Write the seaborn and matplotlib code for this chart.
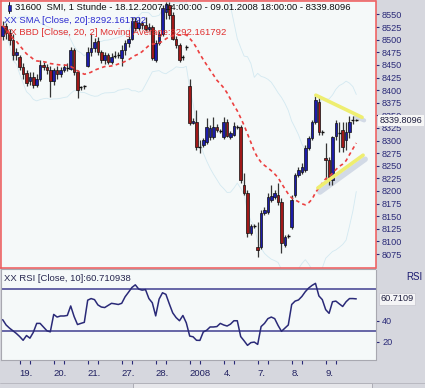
import numpy as np
import pandas as pd
import matplotlib
matplotlib.use("Agg")
import matplotlib.pyplot as plt
import seaborn as sns
from matplotlib.patches import Rectangle
from matplotlib.lines import Line2D

# ---------------- data (hourly bars 18.12.2007 14:00 - 09.01.2008 18:00) ----------------
opens = [8508, 8528, 8514, 8499, 8469, 8465, 8445, 8433, 8419, 8427,
         8411, 8423, 8449, 8445, 8439, 8419, 8439, 8431, 8439, 8445,
         8441, 8479, 8435, 8404, 8406, 8447, 8475, 8483, 8498, 8475,
         8459, 8469, 8455, 8465, 8467, 8463, 8479, 8493, 8502, 8538,
         8524, 8534, 8530, 8522, 8526, 8459, 8493, 8512, 8554, 8568,
         8548, 8502, 8489, 8463, 8485, 8409, 8334, 8336, 8289, 8291,
         8297, 8307, 8307, 8326, 8318, 8307, 8336, 8307, 8312, 8326,
         8326, 8212, 8196, 8117, 8130, 8089, 8089, 8156, 8158, 8182,
         8188, 8192, 8178, 8093, 8111, 8128, 8192, 8231, 8237, 8241,
         8285, 8305, 8336, 8376, 8316, 8265, 8261, 8221, 8310, 8314,
         8320, 8301, 8316, 8340, 8339.5]
highs = [8538, 8534, 8522, 8512, 8483, 8469, 8453, 8439, 8435, 8435,
         8431, 8459, 8455, 8451, 8447, 8443, 8447, 8445, 8451, 8453,
         8485, 8483, 8439, 8409, 8411, 8485, 8512, 8503, 8506, 8479,
         8475, 8473, 8473, 8477, 8475, 8489, 8499, 8508, 8544, 8544,
         8544, 8538, 8544, 8534, 8530, 8499, 8518, 8568, 8574, 8574,
         8554, 8508, 8494, 8469, 8489, 8423, 8344, 8360, 8301, 8305,
         8344, 8330, 8346, 8332, 8322, 8346, 8342, 8318, 8336, 8330,
         8330, 8235, 8202, 8134, 8134, 8138, 8162, 8168, 8196, 8212,
         8202, 8215, 8186, 8113, 8115, 8192, 8235, 8247, 8255, 8291,
         8309, 8340, 8388, 8386, 8320, 8295, 8267, 8310, 8340, 8336,
         8336, 8336, 8348, 8348, 8342]
lows = [8499, 8502, 8489, 8459, 8459, 8439, 8423, 8408, 8411, 8404,
        8406, 8419, 8439, 8431, 8386, 8411, 8423, 8427, 8435, 8437,
        8439, 8429, 8384, 8400, 8402, 8445, 8467, 8475, 8469, 8453,
        8451, 8451, 8451, 8463, 8463, 8447, 8469, 8485, 8499, 8518,
        8520, 8522, 8518, 8518, 8459, 8455, 8489, 8508, 8542, 8542,
        8499, 8483, 8455, 8459, 8479, 8330, 8332, 8281, 8275, 8287,
        8293, 8301, 8303, 8316, 8314, 8303, 8307, 8303, 8309, 8322,
        8215, 8192, 8109, 8113, 8126, 8069, 8085, 8152, 8154, 8178,
        8184, 8172, 8077, 8089, 8107, 8124, 8188, 8227, 8233, 8237,
        8281, 8301, 8332, 8312, 8312, 8221, 8212, 8212, 8301, 8277,
        8277, 8281, 8305, 8332, 8338]
closes = [8528, 8514, 8499, 8469, 8475, 8445, 8431, 8415, 8427, 8411,
          8423, 8449, 8446, 8439, 8419, 8439, 8431, 8439, 8445, 8443,
          8479, 8435, 8400, 8406, 8408, 8475, 8483, 8495, 8475, 8459,
          8469, 8455, 8465, 8467, 8469, 8479, 8493, 8502, 8538, 8524,
          8534, 8530, 8522, 8526, 8463, 8493, 8512, 8562, 8570, 8548,
          8502, 8489, 8459, 8465, 8485, 8334, 8338, 8287, 8288, 8301,
          8326, 8324, 8326, 8320, 8319, 8336, 8310, 8314, 8328, 8327,
          8221, 8196, 8117, 8130, 8131, 8083, 8156, 8162, 8188, 8190,
          8196, 8178, 8097, 8109, 8110, 8182, 8231, 8241, 8247, 8285,
          8305, 8336, 8380, 8316, 8317, 8261, 8227, 8307, 8334, 8315,
          8287, 8316, 8336, 8341, 8339.81]
rsi = [41, 36, 33, 30.5, 28, 25, 21.5, 26, 23.5, 29,
       37.5, 37.5, 34, 30.5, 29.5, 46, 43.5, 44.5, 44.5, 45,
       54, 44, 36.4, 37.5, 38.5, 59.5, 61, 60, 55, 53,
       52.5, 54.5, 56.5, 56, 55.4, 56.5, 62.7, 67, 71.5, 74,
       70, 69, 69.5, 61, 57, 44.6, 60.5, 66.5, 65, 56,
       47.5, 43, 40, 45, 38, 25.5, 24.8, 21.5, 21.4, 29.4,
       31, 34.1, 34.1, 34.5, 37.5, 36, 35, 36.8, 40, 40,
       25, 21, 16.7, 19.3, 19.8, 17.6, 34.5, 37.5, 42, 43.5,
       42, 35.5, 30, 33, 36, 55.4, 58.6, 59.7, 63, 67.5,
       71, 73.5, 75.4, 63.5, 60, 50.5, 47, 58, 58.6, 56,
       53.5, 58, 61, 61, 60.71]

day_labels = ["19.", "20.", "21.", "27.", "28.", "2008", "4.", "7.", "8.", "9."]
day_start_bars = [5, 15, 25, 35, 45, 55, 65, 75, 85, 95]
price_ticks = list(range(8075, 8551, 25))
rsi_ticks = [20, 40]
rsi_levels = [30, 70]
trend_upper_x = [92.1, 105.7]
trend_upper_y = [8390, 8346]
trend_lower_x = [92.7, 106.0]
trend_lower_y = [8206, 8271]

title_main = "31600  SMI, 1 Stunde - 18.12.2007 14:00:00 - 09.01.2008 18:00:00 - 8339.8096"
title_sma = "XX SMA [Close, 20]:8292.161792"
title_bbd = "XX BBD [Close, 20, 2] Moving Average:8292.161792"
title_rsi = "XX RSI [Close, 10]:60.710938"
last_price_label = "8339.8096"
last_rsi_label = "60.7109"

# ---------------- style ----------------
sns.set_style("white")
plt.rcParams["font.family"] = ["Liberation Sans", "DejaVu Sans"]

W, H = 425, 388
GRAY = "#d6d7de"
PANEL = "#f5f9f9"
NAVY = "#2a2a78"

fig = plt.figure(figsize=(W / 100, H / 100), dpi=100, facecolor=GRAY)


def fr(x0, y0, x1, y1):
    return [x0 / W, 1 - y1 / H, (x1 - x0) / W, (y1 - y0) / H]


ax = fig.add_axes(fr(0.5, 0.5, 375.5, 267.5))
axr = fig.add_axes(fr(0.5, 269, 375.5, 359.5))

df = pd.DataFrame({"bar": np.arange(len(closes)), "open": opens, "high": highs,
                   "low": lows, "close": closes, "rsi": rsi})
df["sma"] = df["close"].rolling(20, min_periods=1).mean()
sd = df["close"].rolling(20, min_periods=1).std(ddof=0).fillna(0)
df["upper"] = df["sma"] + 2 * sd
df["lower"] = df["sma"] - 2 * sd

for a in (ax, axr):
    a.set_facecolor(PANEL)
    a.set_xlim(-0.65, 109.65)

ax.set_ylim(8048.3, 8577.7)
axr.set_ylim(3.3, 89.0)

# Bollinger bands (faint)
sns.lineplot(data=df, x="bar", y="upper", ax=ax, color="#d3e9f1", lw=0.6)
sns.lineplot(data=df, x="bar", y="lower", ax=ax, color="#d3e9f1", lw=0.6)

# candles
idx = df["bar"].to_numpy()
o = df["open"].to_numpy(); c = df["close"].to_numpy()
ax.vlines(idx, df["low"], df["high"], color="#353535", lw=0.9, zorder=3)
doji = np.abs(c - o) < 3
body_col = np.where(c > o, "#1c1ca8", "#a01818")
bottoms = np.minimum(o, c)
heights = np.abs(c - o)
ax.bar(idx[~doji], heights[~doji], bottom=bottoms[~doji], width=0.72,
       color=body_col[~doji], edgecolor="#101010", linewidth=0.5, zorder=4)
ax.hlines(c[doji], idx[doji] - 0.45, idx[doji] + 0.45, color="#101010", lw=1.0, zorder=4)

# moving average (red dashed)
sns.lineplot(data=df, x="bar", y="sma", ax=ax, color="#ec4040", lw=1.2)
ax.lines[-1].set_linestyle((0, (2.2, 2.0)))
ax.lines[-1].set_zorder(5)

# trend lines
ax.plot([x + 0.6 for x in trend_lower_x], [y - 8 for y in trend_lower_y],
        color="#d2dae6", lw=4, solid_capstyle="round", zorder=2)
ax.plot([trend_upper_x[1] - 2, trend_upper_x[1] + 0.6], [trend_upper_y[1] + 1, trend_upper_y[1] - 6],
        color="#d2dae6", lw=3, solid_capstyle="round", zorder=2)
ax.plot(trend_upper_x, trend_upper_y, color="#eeee70", lw=2.6, zorder=6)
ax.plot(trend_lower_x, trend_lower_y, color="#eeee70", lw=2.6, zorder=6)

# right price axis
ax.yaxis.tick_right()
ax.set_yticks(price_ticks)
ax.set_yticklabels([str(t) for t in price_ticks])
ax.tick_params(axis="y", right=True, left=False, length=2.2, width=0.8, pad=2.5,
               colors=NAVY, labelsize=6.6)
ax.set_xticks([])
ax.set_xlabel(""); ax.set_ylabel("")
for s in ax.spines.values():
    s.set_color("#f05858"); s.set_linewidth(1.1)
ax.text(1.0 + 4 / 375, closes[-1], last_price_label, transform=ax.get_yaxis_transform(),
        ha="left", va="center", fontsize=6.6, color="#202040", zorder=10,
        bbox=dict(boxstyle="square,pad=0.15", fc="#f6f6f6", ec="none"), clip_on=False)

# header texts
ax.text(14 / 375, 1 - 7 / 267, title_main, transform=ax.transAxes, ha="left", va="center",
        fontsize=6.8, color="#101010", zorder=12)
ax.text(3 / 375, 1 - 20 / 267, title_sma, transform=ax.transAxes, ha="left", va="center",
        fontsize=6.8, color="#2c2cd0", zorder=12)
ax.text(3 / 375, 1 - 32 / 267, title_bbd, transform=ax.transAxes, ha="left", va="center",
        fontsize=6.8, color="#e03030", zorder=12)
fig.patches.append(Rectangle((7.5 / W, 1 - 10.5 / H), 3.5 / W, 5.5 / H, transform=fig.transFigure,
                             facecolor="#1c1cc0", edgecolor="#101010", lw=0.4, zorder=20))
fig.lines.append(Line2D([9.2 / W, 9.2 / W], [1 - 2 / H, 1 - 13 / H], transform=fig.transFigure,
                        color="#101010", lw=0.7, zorder=19))

# ---------------- RSI panel ----------------
for lvl in rsi_levels:
    axr.axhline(lvl, color="#5a5aa0", lw=1.3, zorder=2)
sns.lineplot(data=df, x="bar", y="rsi", ax=axr, color=NAVY, lw=1.1, zorder=3)
axr.yaxis.tick_right()
axr.set_yticks(rsi_ticks)
axr.set_yticklabels([str(t) for t in rsi_ticks])
axr.tick_params(axis="y", right=True, left=False, length=2.2, width=0.8, pad=2.5,
                colors=NAVY, labelsize=6.6)
axr.set_xlabel(""); axr.set_ylabel("")
for s in axr.spines.values():
    s.set_color("#a8a8b0"); s.set_linewidth(0.8)
axr.spines["right"].set_linestyle((0, (1, 1)))
axr.text(3 / 375, 1 - 9 / 90, title_rsi, transform=axr.transAxes, ha="left", va="center",
         fontsize=6.8, color="#26264e", zorder=12)
axr.text(1.0 + 5 / 375, rsi[-1], last_rsi_label, transform=axr.get_yaxis_transform(),
         ha="left", va="center", fontsize=6.6, color="#202040", zorder=10,
         bbox=dict(boxstyle="square,pad=0.2", fc="#f4f4f6", ec="#c8c8d0", lw=0.5), clip_on=False)
fig.text(422 / W, 1 - 277 / H, "RSI", ha="right", va="center", fontsize=7, color="#1a1a70")

# date axis
axr.set_xticks(day_start_bars)
axr.set_xticklabels(day_labels)
axr.set_xticks([d + 3 for d in day_start_bars], minor=True)
axr.tick_params(axis="x", which="both", bottom=True, direction="out", length=3.2, width=0.8,
                colors=NAVY, labelsize=6.8, pad=3.5)
for lab in axr.get_xticklabels():
    lab.set_ha("left")
    lab.set_color("#202060")

# scrollbar at bottom
fig.lines.append(Line2D([0, 1], [1 - 382.5 / H, 1 - 382.5 / H], transform=fig.transFigure,
                        color="#b4b4bc", lw=0.6))
fig.patches.append(Rectangle((133 / W, 1 - 387.5 / H), (372 - 133) / W, 4.5 / H,
                             transform=fig.transFigure, facecolor="#e6e6ea",
                             edgecolor="#a4a4ac", lw=0.6))

fig.savefig("out.png", dpi=100, facecolor=GRAY)
